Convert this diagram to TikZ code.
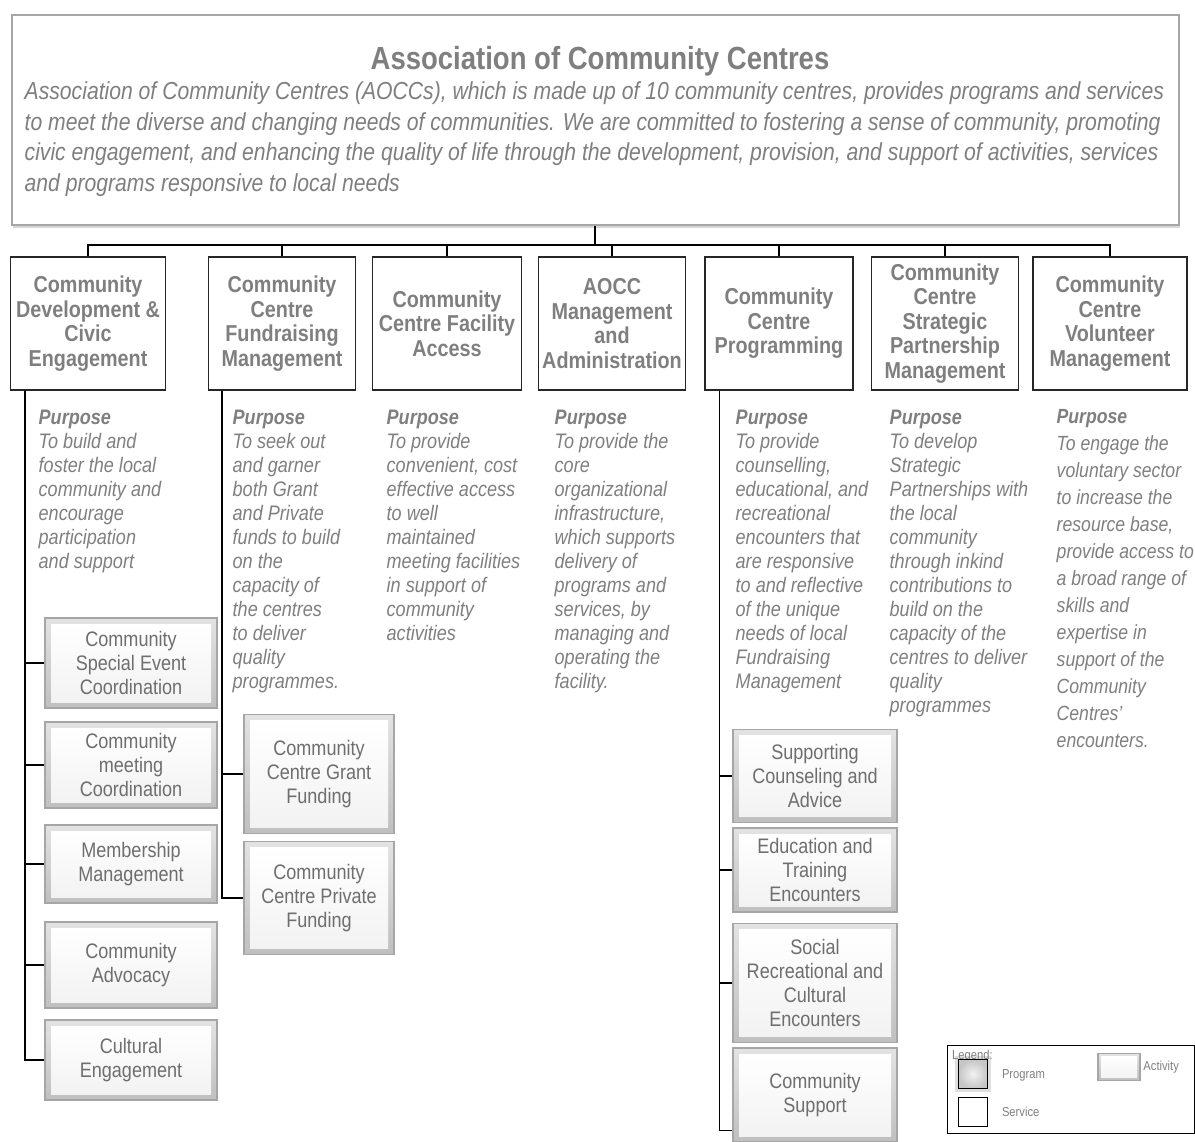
\documentclass[tikz,border=0pt]{standalone}
\usepackage{fontspec}
\setmainfont{Liberation Sans}[FakeStretch=0.86]
\usetikzlibrary{shadows}
\definecolor{myGray}{HTML}{7F7F7F}
\definecolor{myText}{HTML}{6E6E6E}
\definecolor{myEdge}{HTML}{A6A6A6}

\begin{document}
\begin{tikzpicture}[x=1pt, y=-1pt, line width=1.4pt]

  \tikzstyle{Top}=[draw=myEdge, line width=2pt, fill=white, minimum width=1167pt, minimum height=210pt, drop shadow={opacity=0.3, shadow xshift=1pt, shadow yshift=-3pt}]
  \tikzstyle{Head}=[draw=black!85, line width=1.2pt, fill=white, text=myGray, font=\fontsize{23}{24.5}\selectfont\bfseries, align=center, minimum height=133pt, inner sep=1pt]
  \tikzstyle{Purp}=[anchor=north west, inner sep=0pt, text=myGray, align=left, font=\fontsize{21}{24}\selectfont\itshape]
  \tikzstyle{Act}=[draw=myEdge, line width=1.5pt, text=myText, font=\fontsize{21}{24}\selectfont, align=center, inner sep=1pt,
    path picture={
      \shade[top color=gray!22, bottom color=gray!50] (path picture bounding box.south west) rectangle (path picture bounding box.north east);
      \shade[top color=white, bottom color=gray!10] ([shift={(6pt,-6pt)}]path picture bounding box.north west) rectangle ([shift={(-6pt,6pt)}]path picture bounding box.south east);
    }]
  \tikzstyle{L}=[text=myGray, font=\fontsize{13}{15}\selectfont]

  \useasboundingbox (0,0) rectangle (1195,1142);

  % association
  \node[Top] at (595,120) (top) {};
  \node[text=myGray, font=\fontsize{32}{34}\selectfont\bfseries] at (600,61) (title) {Association of Community Centres};
  \node[anchor=north west, inner sep=0pt, text=myGray, align=left, font=\fontsize{24.6}{30.5}\selectfont\itshape] at (24,81) (about)
    {Association of Community Centres (AOCCs), which is made up of 10 community centres, provides programs and services\\
     to meet the diverse and changing needs of communities. We are committed to fostering a sense of community, promoting\\
     civic engagement, and enhancing the quality of life through the development, provision, and support of activities, services\\
     and programs responsive to local needs};

  % programs and services
  \node[Head, minimum width=155pt] at (88,323.5) (h1) {Community\\Development \&\\Civic\\Engagement};
  \node[Head, minimum width=147pt] at (282,323.5) (h2) {Community\\Centre\\Fundraising\\Management};
  \node[Head, minimum width=149pt] at (447,323.5) (h3) {Community\\Centre Facility\\Access};
  \node[Head, minimum width=147pt] at (612,323.5) (h4) {AOCC\\Management\\and\\Administration};
  \node[Head, minimum width=148pt] at (779,323.5) (h5) {Community\\Centre\\Programming};
  \node[Head, minimum width=147pt] at (945,323.5) (h6) {Community\\Centre\\Strategic\\Partnership\\Management};
  \node[Head, minimum width=154pt] at (1110,323.5) (h7) {Community\\Centre\\Volunteer\\Management};

  \coordinate (bus) at (595,245);
  \draw (top.south) -- (bus);
  \foreach \h in {h1,h2,h3,h4,h5,h6,h7}
    \draw (\h.north) |- (bus);

  % purposes
  \node[Purp] at (38,409) (p1) {\textbf{Purpose}\\To build and\\foster the local\\community and\\encourage\\participation\\and support};
  \node[Purp] at (232,409) (p2) {\textbf{Purpose}\\To seek out\\and garner\\both Grant\\and Private\\funds to build\\on the\\capacity of\\the centres\\to deliver\\quality\\programmes.};
  \node[Purp] at (386,409) (p3) {\textbf{Purpose}\\To provide\\convenient, cost\\effective access\\to well\\maintained\\meeting facilities\\in support of\\community\\activities};
  \node[Purp] at (554,409) (p4) {\textbf{Purpose}\\To provide the\\core\\organizational\\infrastructure,\\which supports\\delivery of\\programs and\\services, by\\managing and\\operating the\\facility.};
  \node[Purp] at (735,409) (p5) {\textbf{Purpose}\\To provide\\counselling,\\educational, and\\recreational\\encounters that\\are responsive\\to and reflective\\of the unique\\needs of local\\Fundraising\\Management};
  \node[Purp] at (889,409) (p6) {\textbf{Purpose}\\To develop\\Strategic\\Partnerships with\\the local\\community\\through inkind\\contributions to\\build on the\\capacity of the\\centres to deliver\\quality\\programmes};
  \node[Purp, font=\fontsize{20.5}{27}\selectfont\itshape] at (1056,409) (p7) {\textbf{Purpose}\\To engage  the\\voluntary sector\\to increase the\\resource base,\\provide access to\\a broad  range of\\skills and\\expertise in\\support of the\\Community\\Centres’\\encounters.};

  % activities
  \node[Act, minimum width=172pt, minimum height=90pt] at (131,663) (a1) {Community\\Special Event\\Coordination};
  \node[Act, minimum width=172pt, minimum height=86pt] at (131,765) (a2) {Community\\meeting\\Coordination};
  \node[Act, minimum width=172pt, minimum height=78pt] at (131,864) (a3) {Membership\\Management};
  \node[Act, minimum width=172pt, minimum height=86pt] at (131,965) (a4) {Community\\Advocacy};
  \node[Act, minimum width=172pt, minimum height=80pt] at (131,1060) (a5) {Cultural\\Engagement};

  \node[Act, minimum width=150pt, minimum height=119pt] at (319,774) (b1) {Community\\Centre Grant\\Funding};
  \node[Act, minimum width=150pt, minimum height=113pt] at (319,898) (b2) {Community\\Centre Private\\Funding};

  \node[Act, minimum width=164pt, minimum height=93pt] at (815,776) (e1) {Supporting\\Counseling and\\Advice};
  \node[Act, minimum width=164pt, minimum height=84pt] at (815,870) (e2) {Education and\\Training\\Encounters};
  \node[Act, minimum width=164pt, minimum height=119pt] at (815,983) (e3) {Social\\Recreational and\\Cultural\\Encounters};
  \node[Act, minimum width=164pt, minimum height=94pt] at (815,1095) (e4) {Community\\Support};

  \foreach \a in {a1,a2,a3,a4,a5}
    \draw ([xshift=15pt]h1.south west) |- (\a.west);
  \foreach \b in {b1,b2}
    \draw ([xshift=14pt]h2.south west) |- (\b.west);
  \foreach \e in {e1,e2,e3}
    \draw ([xshift=15pt]h5.south west) |- (\e.west);
  \draw ([xshift=15pt]h5.south west) |- ([yshift=12pt]e4.south west);

  % legend
  \node[draw=black, line width=1pt, minimum width=247pt, minimum height=88pt, inner sep=0pt] at (1070.5,1089) (legend) {};
  \node[L, anchor=west, inner sep=0pt] at ([xshift=5pt,yshift=-12pt]legend.north west) (lgtitle) {Legend:};
  \node[draw=black, line width=1pt, minimum size=29pt, inner color=gray!10, outer color=gray!45, drop shadow={opacity=0.25, shadow xshift=0pt, shadow yshift=0pt, shadow scale=1.25}] at (973,1074) (lgprog) {};
  \node[L, anchor=west] at (998,1075) (lgprogtxt) {Program};
  \node[draw=black, line width=1pt, minimum size=29pt, fill=white] at (973,1112) (lgserv) {};
  \node[L, anchor=west] at (998,1112) (lgservtxt) {Service};
  \node[Act, minimum width=42pt, minimum height=27pt, path picture={
      \shade[top color=gray!22, bottom color=gray!50] (path picture bounding box.south west) rectangle (path picture bounding box.north east);
      \shade[top color=white, bottom color=gray!10] ([shift={(3pt,-3pt)}]path picture bounding box.north west) rectangle ([shift={(-3pt,3pt)}]path picture bounding box.south east);
    }] at (1119,1067) (lgact) {};
  \node[L, anchor=west, inner sep=2pt] at (lgact.east) (lgacttxt) {Activity};

\end{tikzpicture}
\end{document}
